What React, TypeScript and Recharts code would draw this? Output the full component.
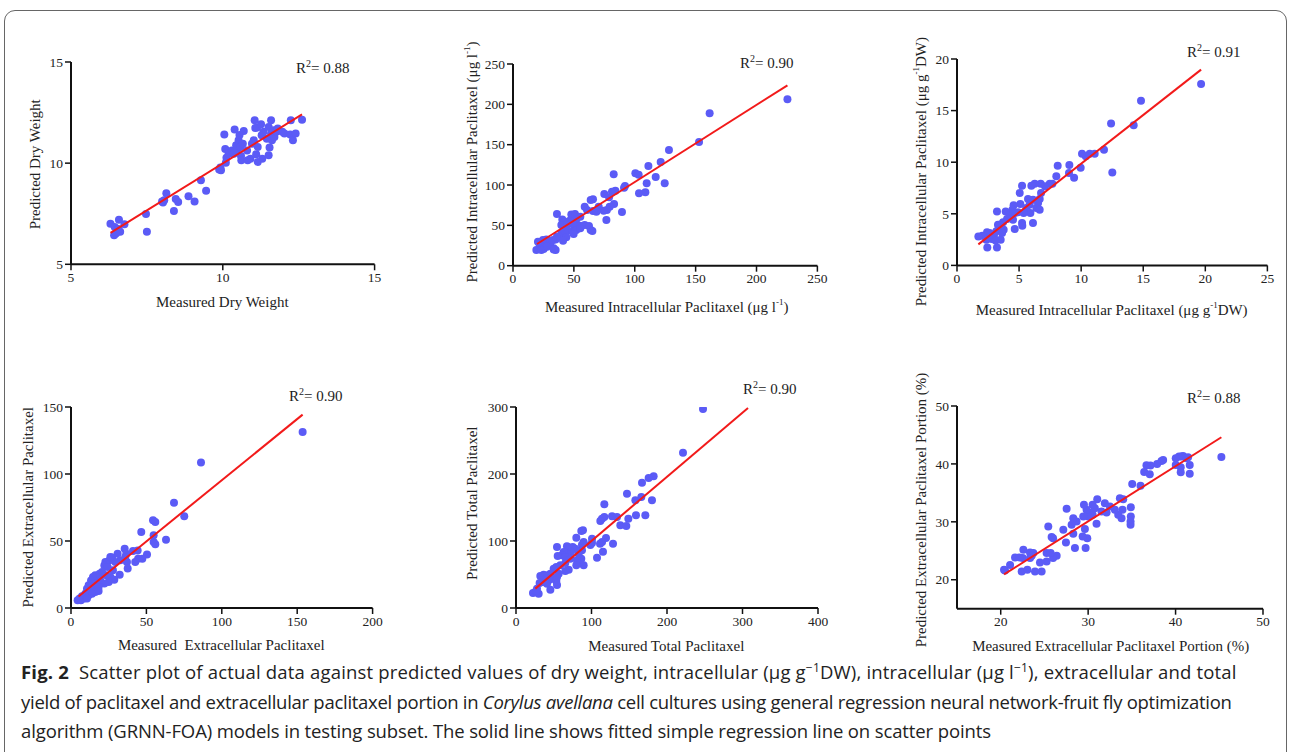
import React from "react";
import { ScatterChart, Scatter, XAxis, YAxis, Label } from "recharts";

type Pt = [number, number];

// measured vs predicted
const dryWeightPoints: Pt[] = [
  [6.3, 7.01], [6.44, 6.84], [6.42, 6.43], [6.51, 6.6], [6.58, 7.2], [6.62, 6.61], [6.76, 6.98], [6.56, 6.75], [6.48, 6.52],
  [7.47, 7.49], [7.5, 6.61], [8.03, 8.05], [8.07, 8.16], [8.14, 8.51], [8.0, 8.1], [8.39, 7.64], [8.45, 8.23], [8.53, 8.08],
  [8.87, 8.36], [9.07, 8.11], [9.28, 9.15], [9.45, 8.64], [9.88, 9.68], [9.94, 9.65], [9.92, 9.78],
  [10.05, 11.41], [10.08, 10.7], [10.12, 10.27], [10.1, 10.02], [10.19, 10.47], [10.3, 10.63], [10.36, 10.47], [10.39, 11.66],
  [10.44, 10.88], [10.47, 10.67], [10.52, 11.13], [10.58, 10.8], [10.55, 11.39], [10.6, 10.35], [10.61, 10.14], [10.66, 10.96],
  [10.69, 11.59], [10.8, 10.63], [10.82, 10.14], [10.91, 10.22], [10.96, 10.96], [11.02, 11.13], [11.05, 12.12], [11.07, 11.74],
  [11.1, 10.44], [11.15, 10.8], [11.15, 10.06], [11.13, 11.76], [11.26, 11.92], [11.28, 11.38], [11.3, 10.22], [11.34, 11.55],
  [11.45, 11.21], [11.51, 11.79], [11.54, 10.77], [11.51, 10.39], [11.59, 12.12], [11.59, 11.46], [11.62, 11.13], [11.67, 11.63],
  [11.7, 11.29], [11.76, 11.55], [11.81, 11.71], [11.96, 11.55], [12.03, 11.46], [12.24, 12.12], [12.22, 11.41], [12.31, 11.13],
  [12.4, 11.46], [12.61, 12.15],
];
const dryWeightFit: Pt[] = [[6.3, 6.55], [12.61, 12.41]];

const intraLitrePoints: Pt[] = [
  [225.4, 206.2], [161.5, 188.8], [152.8, 153.3], [128.1, 143.4], [121.3, 128.5], [111.2, 123.6], [100.5, 114.5], [103.2, 112.8],
  [82.7, 113.2], [117.2, 109.9], [124.6, 102.1], [109.8, 102.1], [92.0, 98.8], [91.2, 96.7], [108.7, 90.9], [103.5, 89.7],
  [84.1, 93.0], [81.3, 91.7], [75.0, 88.8], [78.9, 84.7], [83.0, 76.4], [79.4, 73.1], [77.1, 69.0], [74.5, 68.2], [70.4, 73.1],
  [89.5, 66.5], [76.7, 56.6], [65.7, 82.2], [63.8, 81.4], [58.9, 73.1], [60.8, 69.0], [65.7, 67.8], [68.5, 66.9], [36.1, 64.0],
  [47.9, 63.6], [50.9, 64.0], [55.3, 60.7], [52.0, 57.4], [46.5, 55.8], [40.5, 57.4], [42.4, 54.5], [39.7, 50.4], [44.4, 50.4],
  [49.8, 50.4], [55.2, 49.6], [58.9, 50.4], [62.4, 49.2], [63.8, 44.2], [65.2, 43.0], [49.3, 42.1], [52.0, 44.2], [55.3, 46.3],
  [45.2, 43.4], [42.4, 42.1], [39.7, 40.1], [49.8, 39.3], [38.3, 36.0], [43.8, 35.1], [36.1, 36.0], [35.0, 32.6], [41.1, 31.0],
  [32.9, 31.8], [29.6, 31.0], [27.4, 32.6], [24.6, 31.8], [20.5, 29.8], [30.7, 27.7], [25.2, 26.0], [27.4, 25.2], [21.9, 24.4],
  [33.4, 21.5], [35.0, 19.4], [19.2, 19.4], [23.3, 19.4], [25.2, 20.7], [27.9, 23.6], [33.4, 20.2],
];
const intraLitreFit: Pt[] = [[19.7, 26.9], [225.4, 223.6]];

const intraDwPoints: Pt[] = [
  [19.66, 17.58], [14.82, 15.96], [14.23, 13.57], [12.41, 13.76], [12.51, 9.01], [11.84, 11.21], [11.09, 10.82], [10.69, 10.82],
  [10.37, 10.57], [10.07, 10.82], [9.96, 9.47], [9.05, 9.73], [9.02, 8.95], [9.43, 8.5], [8.11, 9.66], [8.0, 8.63], [7.68, 7.92],
  [7.47, 7.92], [7.09, 7.66], [6.74, 7.92], [6.77, 7.01], [6.26, 7.92], [5.99, 7.72], [5.24, 7.72], [5.05, 7.01], [6.66, 6.43],
  [6.53, 6.04], [6.12, 6.37], [5.85, 5.88], [5.72, 6.43], [6.39, 5.56], [6.66, 5.4], [5.91, 5.07], [5.58, 5.56], [5.1, 5.95],
  [4.91, 5.14], [5.37, 5.07], [5.24, 4.1], [5.26, 3.84], [6.12, 4.1], [4.56, 5.82], [4.46, 5.4], [4.65, 5.07], [4.51, 4.43],
  [4.65, 3.52], [4.24, 4.91], [4.03, 4.49], [3.92, 5.23], [3.71, 4.17], [3.44, 3.94], [3.76, 3.46], [3.44, 3.46], [3.22, 5.23],
  [3.3, 3.94], [3.17, 3.3], [2.98, 2.88], [2.63, 3.13], [2.79, 2.55], [2.42, 3.2], [2.36, 2.49], [2.04, 2.88], [1.72, 2.81],
  [2.44, 1.74], [3.22, 1.74], [3.52, 2.49], [3.11, 2.42], [3.63, 3.13],
];
const intraDwFit: Pt[] = [[1.72, 2.04], [19.66, 18.97]];

const extraPoints: Pt[] = [
  [153.6, 131.3], [86.2, 108.5], [68.3, 78.6], [75.1, 68.4], [63.0, 51.0], [54.4, 65.4], [55.9, 64.2], [46.6, 56.7], [54.8, 54.2],
  [54.8, 49.3], [55.9, 47.5], [50.4, 40.0], [47.3, 36.8], [44.5, 36.8], [44.2, 43.0], [41.1, 42.5], [42.6, 34.3], [37.1, 34.3],
  [35.6, 44.3], [36.7, 40.5], [36.0, 38.1], [37.6, 29.4], [32.7, 35.6], [30.9, 40.5], [32.3, 24.9], [29.4, 34.3], [27.2, 37.6],
  [25.6, 35.6], [22.8, 34.3], [22.1, 31.8], [24.3, 30.6], [27.8, 28.1], [26.1, 23.1], [28.7, 21.1], [25.0, 19.4], [22.1, 18.2],
  [23.4, 24.4], [20.6, 26.9], [19.0, 25.6], [17.7, 23.1], [19.4, 20.6], [16.1, 24.4], [14.6, 23.1], [13.3, 20.6], [16.8, 18.2],
  [15.0, 16.2], [18.3, 15.7], [11.7, 16.9], [10.6, 14.4], [12.8, 13.2], [16.1, 11.9], [18.3, 12.7], [9.5, 10.7], [11.7, 9.5],
  [13.9, 10.7], [7.3, 8.7], [5.7, 7.0], [8.8, 7.0], [4.4, 5.7], [6.6, 5.7], [10.6, 7.0], [26.1, 38.1],
];
const extraFit: Pt[] = [[5, 8.6], [153.6, 144.3]];

const totalPoints: Pt[] = [
  [247.7, 297.0], [221.2, 231.8], [182.3, 196.5], [175.7, 194.0], [166.9, 187.1], [147.0, 170.6], [158.1, 160.7], [180.1, 160.7],
  [166.0, 165.7], [117.0, 154.7], [117.0, 135.8], [113.9, 133.3], [111.7, 129.9], [127.2, 136.8], [133.8, 135.8], [148.8, 133.3],
  [158.9, 138.3], [171.3, 138.3], [138.2, 123.4], [146.1, 122.4], [119.2, 104.5], [111.3, 96.0], [114.0, 98.5], [115.2, 84.1],
  [128.5, 96.0], [107.3, 75.1], [100.7, 103.5], [100.7, 97.0], [98.5, 94.0], [88.7, 115.9], [86.5, 114.9], [89.6, 98.5],
  [87.4, 94.5], [79.9, 105.0], [87.4, 86.1], [83.0, 81.1], [86.5, 73.6], [89.6, 63.7], [85.2, 68.7], [80.8, 71.1], [79.9, 63.7],
  [67.5, 92.0], [71.1, 90.0], [75.1, 91.0], [78.6, 88.6], [72.8, 83.6], [67.5, 81.1], [63.1, 83.6], [60.9, 78.6], [54.3, 91.0],
  [55.2, 77.6], [65.3, 76.1], [72.0, 73.6], [65.3, 67.2], [58.7, 63.7], [69.8, 57.2], [65.3, 55.2], [53.4, 61.2], [56.5, 51.2],
  [49.9, 58.7], [45.5, 51.2], [41.9, 48.8], [36.6, 49.8], [32.2, 47.8], [52.1, 43.8], [53.4, 40.3], [47.7, 43.8], [43.3, 41.3],
  [38.9, 43.8], [35.8, 38.8], [31.3, 37.3], [41.1, 36.3], [54.3, 34.3], [45.5, 27.4], [54.3, 46.3], [27.8, 28.9], [25.6, 23.9],
  [22.5, 22.4], [30.0, 21.4], [27.0, 25.4],
];
const totalFit: Pt[] = [[25.6, 28.9], [307.3, 298.5]];

const portionPoints: Pt[] = [
  [45.24, 41.21], [41.62, 39.83], [41.62, 38.28], [41.24, 40.98], [40.67, 41.26], [40.86, 41.38], [40.4, 41.26], [40.02, 40.98],
  [40.02, 39.83], [40.59, 39.43], [40.59, 38.56], [41.43, 41.15], [38.58, 40.69], [38.39, 40.52], [37.89, 40.0], [37.13, 39.71],
  [36.67, 39.77], [36.41, 38.62], [37.05, 38.22], [35.99, 36.21], [35.04, 36.55], [34.88, 32.53], [34.88, 30.92], [34.85, 30.06],
  [34.85, 29.48], [34.01, 33.91], [33.63, 34.08], [33.93, 32.07], [33.82, 30.63], [33.44, 31.21], [33.06, 32.07], [32.49, 32.64],
  [31.91, 33.22], [32.11, 31.61], [31.53, 31.78], [31.04, 33.91], [30.96, 29.66], [30.77, 32.36], [30.51, 31.21], [30.2, 31.61],
  [30.01, 30.92], [30.51, 32.93], [29.82, 32.07], [29.44, 30.92], [29.52, 32.93], [29.63, 28.74], [29.9, 27.18], [29.37, 27.47],
  [29.71, 25.46], [28.68, 30.06], [28.3, 30.63], [28.11, 29.48], [28.3, 27.93], [28.49, 25.46], [27.54, 32.24], [27.16, 28.62],
  [27.46, 26.44], [26.4, 24.14], [25.99, 23.74], [25.99, 27.18], [25.82, 27.36], [25.44, 29.2], [25.25, 24.6], [25.71, 24.6],
  [25.25, 23.16], [24.49, 22.99], [24.68, 21.44], [23.92, 21.44], [23.73, 24.6], [23.35, 24.71], [23.54, 24.14], [23.35, 23.74],
  [22.59, 25.17], [22.51, 23.74], [22.4, 21.44], [23.05, 21.72], [21.64, 23.85], [22.13, 23.85], [21.07, 22.53], [20.49, 21.61],
  [20.38, 21.72],
];
const portionFit: Pt[] = [[20.38, 20.92], [45.24, 44.6]];

const SERIF = '"Liberation Serif", "Times New Roman", serif';
const DOT = "#5b5bf6";
const RED = "#f21a1a";

const sup = (s: string) => (
  <tspan baselineShift="super" fontSize={9}>{s}</tspan>
);

type PanelCfg = {
  plot: [number, number, number, number]; // x0, x1, top, bottom (page px)
  xDomain: [number, number];
  xTicks: number[];
  yDomain: [number, number];
  yTicks: number[];
  points: Pt[];
  fit: Pt[];
  xTitle: React.ReactNode;
  xTitlePos: [number, number];
  yTitle: React.ReactNode;
  yTitlePos: [number, number];
  r2: string;
  r2Pos: [number, number];
};

const panels: PanelCfg[] = [
  {
    plot: [70.7, 374.3, 61.7, 264],
    xDomain: [5, 15], xTicks: [5, 10, 15],
    yDomain: [5, 15], yTicks: [5, 10, 15],
    points: dryWeightPoints, fit: dryWeightFit,
    xTitle: "Measured Dry Weight", xTitlePos: [222, 302],
    yTitle: "Predicted Dry Weight", yTitlePos: [35, 164],
    r2: "0.88", r2Pos: [296, 68],
  },
  {
    plot: [513.3, 817.7, 64, 265.7],
    xDomain: [0, 250], xTicks: [0, 50, 100, 150, 200, 250],
    yDomain: [0, 250], yTicks: [0, 50, 100, 150, 200, 250],
    points: intraLitrePoints, fit: intraLitreFit,
    xTitle: <>Measured Intracellular Paclitaxel (μg l{sup("-1")})</>, xTitlePos: [667, 307],
    yTitle: <>Predicted Intracellular Paclitaxel (μg l{sup("-1")})</>, yTitlePos: [472, 162],
    r2: "0.90", r2Pos: [740, 63],
  },
  {
    plot: [957.3, 1267.7, 59.3, 265.7],
    xDomain: [0, 25], xTicks: [0, 5, 10, 15, 20, 25],
    yDomain: [0, 20], yTicks: [0, 5, 10, 15, 20],
    points: intraDwPoints, fit: intraDwFit,
    xTitle: <>Measured Intracellular Paclitaxel (μg g{sup("-1")}DW)</>, xTitlePos: [1112, 310],
    yTitle: <>Predicted Intracellular Paclitaxel (μg g{sup("-1")}DW)</>, yTitlePos: [921, 172],
    r2: "0.91", r2Pos: [1187, 52],
  },
  {
    plot: [70.7, 372.3, 406.7, 607.7],
    xDomain: [0, 200], xTicks: [0, 50, 100, 150, 200],
    yDomain: [0, 150], yTicks: [0, 50, 100, 150],
    points: extraPoints, fit: extraFit,
    xTitle: "Measured\u00a0 Extracellular Paclitaxel", xTitlePos: [221, 645],
    yTitle: "Predicted Extracellular Paclitaxel", yTitlePos: [28, 507],
    r2: "0.90", r2Pos: [289, 396],
  },
  {
    plot: [515.7, 817.7, 406.7, 607.7],
    xDomain: [0, 400], xTicks: [0, 100, 200, 300, 400],
    yDomain: [0, 300], yTicks: [0, 100, 200, 300],
    points: totalPoints, fit: totalFit,
    xTitle: "Measured Total Paclitaxel", xTitlePos: [666, 646],
    yTitle: "Predicted Total Paclitaxel", yTitlePos: [472, 503],
    r2: "0.90", r2Pos: [743, 389],
  },
  {
    plot: [957.3, 1263.3, 406, 608.7],
    xDomain: [15, 50], xTicks: [20, 30, 40, 50],
    yDomain: [15, 50], yTicks: [20, 30, 40, 50],
    points: portionPoints, fit: portionFit,
    xTitle: "Measured Extracellular Paclitaxel Portion (%)", xTitlePos: [1111, 646],
    yTitle: "Predicted Extracellular Paclitaxel Portion (%)", yTitlePos: [921, 510],
    r2: "0.88", r2Pos: [1187, 398],
  },
];

const toRows = (pts: Pt[]) => pts.map(([x, y]) => ({ x, y }));

const XTick = (p: any) => (
  <text x={p.x} y={p.y} dy="0.71em" textAnchor="middle" fontFamily={SERIF} fontSize={13.5} fill="#222">
    {p.payload.value}
  </text>
);
const YTick = (p: any) => (
  <text x={p.x} y={p.y} dy="0.35em" textAnchor="end" fontFamily={SERIF} fontSize={13.5} fill="#222">
    {p.payload.value}
  </text>
);

function Panel({ cfg }: { cfg: PanelCfg }) {
  const [x0, x1, y0, y1] = cfg.plot;
  const left = x0 - 70;
  const top = y0 - 40;
  const width = x1 - left + 25;
  const height = y1 - top + 55;
  const axisProps = {
    type: "number" as const,
    stroke: "#111",
    axisLine: { stroke: "#111", strokeWidth: 2 },
    tickLine: { stroke: "#111", strokeWidth: 1.5 },
    tickSize: 6,
    allowDataOverflow: true,
  };
  const [xtx, xty] = cfg.xTitlePos;
  const [ytx, yty] = cfg.yTitlePos;
  return (
    <>
      <div style={{ position: "absolute", left, top }}>
        <ScatterChart width={width} height={height} margin={{ top: 40, left: 30, right: 25, bottom: 25 }}>
          <XAxis {...axisProps} dataKey="x" domain={cfg.xDomain} ticks={cfg.xTicks} height={30} tick={XTick}>
            <Label
              content={() => (
                <text x={xtx - left} y={xty - top} textAnchor="middle" dominantBaseline="central"
                  fontFamily={SERIF} fontSize={15} fill="#222">
                  {cfg.xTitle}
                </text>
              )}
            />
          </XAxis>
          <YAxis {...axisProps} dataKey="y" domain={cfg.yDomain} ticks={cfg.yTicks} width={40} tick={YTick}>
            <Label
              content={() => (
                <text x={ytx - left} y={yty - top} textAnchor="middle" dominantBaseline="central"
                  transform={`rotate(-90 ${ytx - left} ${yty - top})`}
                  fontFamily={SERIF} fontSize={15} fill="#222">
                  {cfg.yTitle}
                </text>
              )}
            />
          </YAxis>
          <Scatter
            data={toRows(cfg.points)}
            isAnimationActive={false}
            shape={(p: any) => <circle cx={p.cx} cy={p.cy} r={4} fill={DOT} />}
          />
          <Scatter
            data={toRows(cfg.fit)}
            isAnimationActive={false}
            line={{ stroke: RED, strokeWidth: 2 }}
            shape={() => <g />}
          />
        </ScatterChart>
      </div>
      <div
        style={{
          position: "absolute", left: cfg.r2Pos[0], top: cfg.r2Pos[1] - 9,
          fontFamily: SERIF, fontSize: 15, color: "#222", lineHeight: "18px", whiteSpace: "nowrap",
        }}
      >
        R<sup style={{ fontSize: 10, lineHeight: 0, verticalAlign: "6px" }}>2</sup>= {cfg.r2}
      </div>
    </>
  );
}

const capSup = (s: string) => (
  <sup style={{ fontSize: "0.65em", lineHeight: 0, verticalAlign: "0.55em" }}>{s}</sup>
);

export default function App() {
  return (
    <div style={{ position: "absolute", left: 0, top: 0, width: 1290, height: 752, overflow: "hidden", background: "#fff" }}>
      <div
        style={{
          position: "absolute", left: 4, top: 10, width: 1283, height: 780,
          border: "1px solid #666", borderRadius: 11, boxSizing: "border-box",
        }}
      />
      {panels.map((cfg, i) => (
        <Panel key={i} cfg={cfg} />
      ))}
      <div
        style={{
          position: "absolute", left: 21, top: 657, fontFamily: '"Open Sans", sans-serif',
          fontSize: 18.5, lineHeight: "29.5px", color: "#222", whiteSpace: "nowrap",
        }}
      >
        <div style={{ letterSpacing: "0.18px" }}>
          <b>Fig. 2</b>&nbsp; Scatter plot of actual data against predicted values of dry weight, intracellular (μg g{capSup("−1")}DW),
          intracellular (μg l{capSup("−1")}), extracellular and total
        </div>
        <div style={{ letterSpacing: "-0.28px" }}>
          yield of paclitaxel and extracellular paclitaxel portion in <i>Corylus avellana</i> cell cultures using general
          regression neural network-fruit fly optimization
        </div>
        <div style={{ letterSpacing: "-0.12px" }}>
          algorithm (GRNN-FOA) models in testing subset. The solid line shows fitted simple regression line on scatter points
        </div>
      </div>
    </div>
  );
}
